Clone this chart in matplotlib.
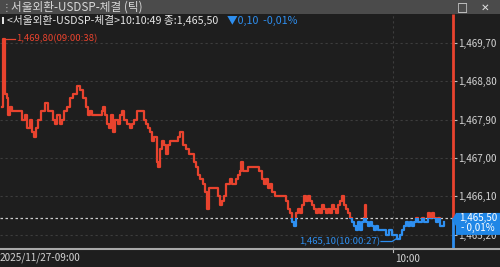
import matplotlib
matplotlib.use("Agg")
import matplotlib.pyplot as plt
from matplotlib.patches import Rectangle, Polygon
from matplotlib.lines import Line2D

plt.rcParams['font.family'] = ['Noto Sans CJK KR', 'DejaVu Sans']

# ---------------- data ----------------
title = "서울외환-USDSP-체결 (틱)"
info_main = "<서울외환-USDSP-체결>10:10:49 종:1,465,50"
info_chg = "▼0,10  -0,01%"
date_label = "2025/11/27-09:00"
time_label = "10:00"
time_label_tick = 393
prev_close = 1465.60
last_price = 1465.50
last_text = ["1,465,50", "- 0,01%"]
max_text = "1,469,80(09:00:38)"
min_text = "1,465,10(10:00:27)"
y_ticks = [1469.70, 1468.80, 1467.90, 1467.00, 1466.10, 1465.20]
y_tick_labels = ["1,469,70", "1,468,80", "1,467,90", "1,467,00", "1,466,10", "1,465,20"]

tick_idx = [2, 3, 5, 7, 8, 10, 12, 15, 17, 20, 22, 25, 27, 30, 32, 34, 36, 38, 41, 45,
            48, 50, 53, 55, 57, 60, 62, 64, 67, 70, 73, 77, 80, 83, 86, 88, 90, 92, 96, 100,
            102, 103, 105, 107, 109, 111, 113, 115, 118, 120, 122, 124, 127, 130, 132, 134, 137, 140, 142, 144,
            146, 148, 150, 152, 154, 156, 157, 158, 160, 162, 164, 166, 168, 170, 173, 176, 178, 180, 183, 186,
            189, 192, 194, 196, 198, 200, 203, 205, 207, 209, 212, 216, 218, 220, 222, 224, 226, 228, 230, 232,
            234, 236, 238, 240, 241, 243, 245, 248, 252, 255, 257, 259, 262, 264, 266, 268, 270, 272, 275, 278,
            280, 283, 286, 288, 290, 292, 294, 296, 298, 300, 302, 304, 306, 308, 310, 312, 314, 316, 318, 320,
            322, 324, 326, 328, 330, 332, 334, 336, 338, 340, 342, 344, 346, 348, 350, 352, 354, 356, 358, 360,
            362, 364, 365, 366, 368, 370, 372, 374, 376, 378, 380, 383, 386, 389, 392, 395, 397, 400, 402, 404,
            406, 408, 410, 412, 414, 416, 418, 420, 422, 424, 426, 428, 430, 432, 434, 436, 438, 440, 442, 444]

prices = [1468.20, 1469.80, 1468.50, 1468.40, 1468.00, 1468.20, 1468.10, 1468.10, 1468.10, 1468.10,
          1467.90, 1468.00, 1467.70, 1467.90, 1467.60, 1467.50, 1467.70, 1467.90, 1468.10, 1468.30,
          1468.10, 1468.10, 1467.90, 1467.80, 1468.00, 1467.80, 1467.90, 1468.10, 1468.20, 1468.40,
          1468.50, 1468.70, 1468.60, 1468.40, 1468.20, 1468.00, 1468.10, 1468.00, 1468.00, 1468.00,
          1468.10, 1468.20, 1468.00, 1467.80, 1467.70, 1468.00, 1467.60, 1467.90, 1467.80, 1468.00,
          1468.10, 1467.90, 1467.80, 1467.70, 1467.80, 1467.90, 1468.10, 1468.10, 1468.10, 1467.90,
          1467.80, 1467.70, 1467.60, 1467.40, 1467.50, 1467.50, 1466.90, 1466.80, 1467.20, 1467.40,
          1467.30, 1467.10, 1467.30, 1467.40, 1467.40, 1467.40, 1467.50, 1467.60, 1467.30, 1467.20,
          1467.10, 1467.10, 1466.90, 1466.80, 1466.60, 1466.50, 1466.40, 1466.20, 1465.80, 1466.30,
          1466.30, 1466.30, 1466.10, 1465.90, 1466.00, 1466.10, 1466.40, 1466.40, 1466.50, 1466.40,
          1466.40, 1466.50, 1466.60, 1466.70, 1466.90, 1466.70, 1466.70, 1466.80, 1466.80, 1466.80,
          1466.80, 1466.70, 1466.50, 1466.40, 1466.50, 1466.30, 1466.40, 1466.20, 1466.10, 1466.10,
          1466.10, 1466.10, 1466.00, 1465.80, 1465.70, 1465.50, 1465.40, 1465.70, 1465.80, 1465.70,
          1465.90, 1466.10, 1466.00, 1466.10, 1466.00, 1465.90, 1465.80, 1465.70, 1465.80, 1465.70,
          1465.90, 1465.80, 1465.70, 1465.80, 1465.70, 1465.90, 1465.80, 1465.70, 1465.90, 1466.00,
          1466.10, 1465.90, 1465.80, 1465.70, 1465.60, 1465.50, 1465.40, 1465.30, 1465.50, 1465.30,
          1465.50, 1465.60, 1465.90, 1465.50, 1465.40, 1465.50, 1465.40, 1465.30, 1465.40, 1465.30,
          1465.30, 1465.30, 1465.20, 1465.30, 1465.20, 1465.20, 1465.10, 1465.20, 1465.30, 1465.40,
          1465.50, 1465.40, 1465.50, 1465.40, 1465.50, 1465.60, 1465.50, 1465.50, 1465.60, 1465.50,
          1465.50, 1465.70, 1465.60, 1465.70, 1465.60, 1465.50, 1465.60, 1465.40, 1465.40, 1465.50]

# ---------------- style ----------------
W, H = 500, 267
BG = "#1e1e1e"
BAR = "#4b4b4b"
RED = "#e8432e"
BLUE = "#2e8ff0"
TXT = "#d4d4d4"
GRID = "#3d3d3d"

def fx(px):
    return px / W

def fy(py):
    return 1 - py / H

fig = plt.figure(figsize=(W / 100, H / 100), dpi=100)
fig.patch.set_facecolor(BG)

# title bar
fig.add_artist(Rectangle((0, fy(14)), 1, 14 / H, transform=fig.transFigure,
                         facecolor=BAR, edgecolor="none"))
fig.text(fx(2), fy(7.5), "⋮", color="#bdbdbd", fontsize=7, va="center", ha="left")
fig.text(fx(11), fy(7.5), title, color="#d8d8d8", fontsize=8.4, va="center", ha="left")
fig.text(fx(462), fy(7.5), "□", color="#e0e0e0", fontsize=8.5, va="center", ha="center",
         family=["DejaVu Sans"])
fig.text(fx(485), fy(7.5), "✕", color="#e0e0e0", fontsize=7.5, va="center", ha="center",
         family=["DejaVu Sans"])

# axes
ax_left, ax_right, ax_top, ax_bot = 0, 453, 14, 248
ax = fig.add_axes([fx(ax_left), fy(ax_bot), fx(ax_right - ax_left), (ax_bot - ax_top) / H])
ax.set_facecolor(BG)
px_per_unit = 42.6
y_top = 1469.70 + (43 - ax_top) / px_per_unit
y_bot = 1469.70 - (ax_bot - 43) / px_per_unit
ax.set_ylim(y_bot, y_top)
ax.set_xlim(ax_left, ax_right)
for s in ax.spines.values():
    s.set_visible(False)

# grid
for v in y_ticks:
    ax.axhline(v, color=GRID, lw=0.8, dashes=(2, 2.5), zorder=1)
ax.axvline(time_label_tick, color=GRID, lw=0.8, dashes=(2, 2.5), zorder=1)
ax.axhline(prev_close, color="#cfcfcf", lw=0.9, dashes=(2, 2), zorder=2)

# price line: red above prev close, blue below
red_line, = ax.plot(tick_idx, prices, color=RED, lw=1.6, drawstyle="steps-post", zorder=3)
blue_line, = ax.plot(tick_idx, prices, color=BLUE, lw=1.6, drawstyle="steps-post", zorder=3)
red_line.set_clip_path(Rectangle((ax_left - 10, prev_close), 1000, 20, transform=ax.transData))
blue_line.set_clip_path(Rectangle((ax_left - 10, prev_close - 20), 1000, 20, transform=ax.transData))

# right bar (current-price axis)
ax.plot([ax_right, ax_right], [prev_close, y_top], color=RED, lw=2.0, clip_on=False, zorder=4,
        solid_capstyle="butt")
ax.plot([ax_right, ax_right], [y_bot, prev_close], color=BLUE, lw=2.0, clip_on=False, zorder=4,
        solid_capstyle="butt")

# y ticks on right
ax.yaxis.tick_right()
ax.set_yticks(y_ticks)
ax.set_yticklabels(y_tick_labels)
ax.tick_params(axis="y", length=3, width=0.8, color="#bdbdbd", labelcolor=TXT,
               labelsize=7.1, pad=0.5)
ax.set_xticks([])

# bottom axis line & labels
fig.add_artist(Line2D([0, 1], [fy(248.5), fy(248.5)], transform=fig.transFigure,
                      color="#a8a8a8", lw=1.5))
ax.plot([time_label_tick, time_label_tick], [y_bot, y_bot - 0.1], color="#bdbdbd", lw=0.8,
        clip_on=False)
fig.text(fx(0), fy(258), date_label, color=TXT, fontsize=7.2, va="center", ha="left")
fig.text(fx(395), fy(258.5), time_label, color=TXT, fontsize=7.2, va="center", ha="left")

# info line
fig.add_artist(Rectangle((fx(2), fy(24)), 2 / W, 7 / H, transform=fig.transFigure,
                         facecolor="#e0e0e0", edgecolor="none"))
fig.text(fx(7), fy(20.5), info_main, color="#e6e6e6", fontsize=7.7, va="center", ha="left")
fig.text(fx(227), fy(20.5), info_chg, color=BLUE, fontsize=7.7, va="center", ha="left")

# max annotation
i_max = prices.index(max(prices))
ax.plot([tick_idx[i_max], 15], [prices[i_max], prices[i_max]], color=RED, lw=0.9, zorder=4)
ax.text(16, prices[i_max], max_text, color=RED, fontsize=6.9, va="center", ha="left")

# min annotation
i_min = prices.index(min(prices))
y_lab = prices[i_min] - 0.06
ax.plot([381, 392, tick_idx[i_min] - 1], [y_lab, y_lab, prices[i_min]], color=BLUE, lw=0.9,
        zorder=4)
ax.text(380, y_lab, min_text, color=BLUE, fontsize=6.9, va="center", ha="right")

# last price box
yb = ax.transData.transform((0, last_price))[1]
yb_px = H - yb
box = Polygon([(fx(452), fy(yb_px - 2)), (fx(456), fy(yb_px - 9)), (fx(500), fy(yb_px - 9)),
               (fx(500), fy(yb_px + 13)), (fx(456), fy(yb_px + 13)), (fx(456), fy(yb_px + 4))],
              closed=True, transform=fig.transFigure, facecolor="#1f86e6", edgecolor="none",
              zorder=10)
fig.add_artist(box)
fig.text(fx(478), fy(yb_px - 3.5), last_text[0], color="white", fontsize=7.0, va="center",
         ha="center", zorder=11)
fig.text(fx(478), fy(yb_px + 6.5), last_text[1], color="white", fontsize=7.0, va="center",
         ha="center", zorder=11)

fig.savefig("out.png", dpi=100, facecolor=BG)
